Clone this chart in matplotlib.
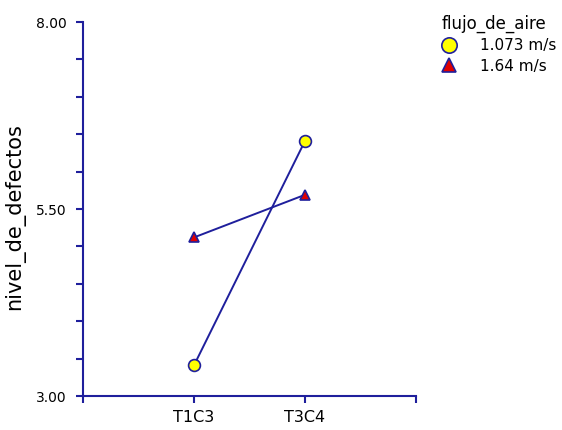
import matplotlib
matplotlib.use("Agg")
import matplotlib.pyplot as plt
import numpy as np

categories = ["T1C3", "T3C4"]
series_names = ["1.073 m/s", "1.64 m/s"]
values_slow = [3.41, 6.41]
values_fast = [5.12, 5.69]
y_tick_values = [3.0, 3.5, 4.0, 4.5, 5.0, 5.5, 6.0, 6.5, 7.0, 7.5, 8.0]
y_tick_labels = ["3.00", "", "", "", "", "5.50", "", "", "", "", "8.00"]
legend_title = "flujo_de_aire"
y_label = "nivel_de_defectos"

navy = "#1f1f9c"
plt.rcParams['font.family'] = ['DejaVu Sans']

fig = plt.figure(figsize=(5.62, 4.30), dpi=100)
ax = fig.add_axes([83/562, 1 - 396/430, (416 - 83)/562, (396 - 22)/430])

x = np.arange(1, len(categories) + 1)
l1, = ax.plot(x, values_slow, color=navy, lw=1.4, marker='o', markersize=8.5,
              markerfacecolor='#ffff00', markeredgecolor=navy, markeredgewidth=1.2,
              label=series_names[0])
l2, = ax.plot(x, values_fast, color=navy, lw=1.4, marker='^', markersize=7.5,
              markerfacecolor='#e00000', markeredgecolor=navy, markeredgewidth=1.2,
              label=series_names[1])

ax.set_xlim(0, 3)
ax.set_ylim(3, 8)
ax.set_xticks([0, 1, 2, 3])
ax.set_xticklabels([""] + categories + [""], fontsize=11.5)
ax.set_yticks(y_tick_values)
ax.set_yticklabels(y_tick_labels, fontsize=10)

for s in ["top", "right"]:
    ax.spines[s].set_visible(False)
for s in ["left", "bottom"]:
    ax.spines[s].set_color(navy)
    ax.spines[s].set_linewidth(1.5)
ax.tick_params(axis='both', colors=navy, length=5, width=1.5, labelcolor='black')
ax.tick_params(axis='y', pad=7)
ax.tick_params(axis='x', pad=5)

ax.set_ylabel(y_label, fontsize=15)
ax.yaxis.set_label_coords(-58/333, 0.48)

leg = fig.legend(handles=[l1, l2], labels=series_names, title=legend_title,
                 loc='upper left', bbox_to_anchor=(428/562, 1 - 1/430),
                 frameon=False, fontsize=11, title_fontsize=12,
                 alignment='left', markerscale=1.3, handlelength=1.0,
                 handletextpad=1.5, labelspacing=0.35)
for h in leg.legend_handles:
    h.set_linestyle('None')

fig.savefig("out.png", dpi=100)
